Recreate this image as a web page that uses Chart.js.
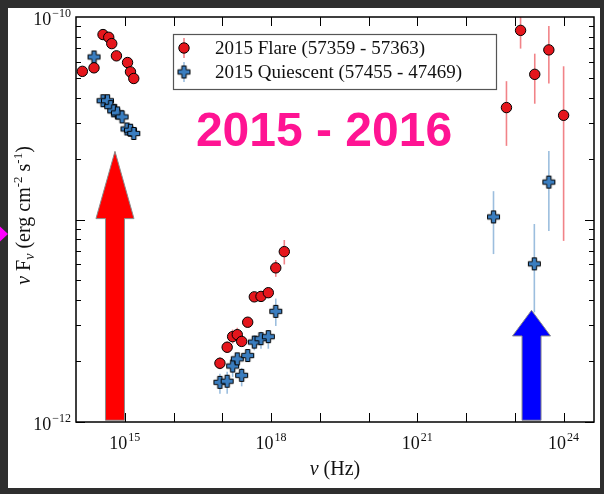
<!DOCTYPE html>
<html>
<head>
<meta charset="utf-8">
<script src="https://cdn.jsdelivr.net/npm/chart.js@4.4.1/dist/chart.umd.min.js"></script>
<style>
  html, body { margin: 0; padding: 0; background: #2e2e2e; }
  canvas { display: block; }
</style>
</head>
<body>
<canvas id="sed" width="604" height="494"></canvas>
<script>
// nu (Hz) and nu*F_nu (erg cm^-2 s^-1); null = no error bar
const flareNu = [1.35e14, 2.34e14, 3.58e14, 4.69e14, 5.41e14, 6.75e14, 1.14e15, 1.31e15, 1.53e15,
  8.95e16, 1.26e17, 1.63e17, 2.03e17, 2.50e17, 3.32e17, 4.54e17, 6.22e17, 8.79e17, 1.25e18, 1.87e18,
  6.73e22, 1.31e23, 2.56e23, 4.98e23, 1.0e24];
const flareFlux = [5.39e-11, 5.61e-11, 8.19e-11, 7.94e-11, 7.39e-11, 6.43e-11, 5.96e-11, 5.36e-11, 4.97e-11,
  1.95e-12, 2.34e-12, 2.64e-12, 2.70e-12, 2.50e-12, 3.11e-12, 4.15e-12, 4.17e-12, 4.35e-12, 5.77e-12, 6.94e-12,
  3.57e-11, 8.59e-11, 5.21e-11, 6.88e-11, 3.27e-11];
const flareLow = [null, null, null, null, null, null, null, null, null,
  1.82e-12, 2.19e-12, 2.44e-12, 2.49e-12, 2.36e-12, 2.94e-12, 3.92e-12, 3.94e-12, 4.11e-12, 5.21e-12, 6.00e-12,
  2.31e-11, 6.98e-11, 3.73e-11, 4.69e-11, 7.84e-12];
const flareHigh = [null, null, null, null, null, null, null, null, null,
  2.09e-12, 2.50e-12, 2.86e-12, 2.92e-12, 2.64e-12, 3.29e-12, 4.39e-12, 4.41e-12, 4.60e-12, 6.31e-12, 7.92e-12,
  4.82e-11, 1.10e-10, 6.59e-11, 9.02e-11, 5.71e-11];

const quietNu = [2.34e14, 3.58e14, 4.42e14, 5.15e14, 5.94e14, 7.08e14, 8.81e14, 1.11e15, 1.31e15, 1.53e15,
  8.95e16, 1.26e17, 1.63e17, 2.03e17, 2.50e17, 3.32e17, 4.54e17, 6.22e17, 8.79e17, 1.25e18,
  3.65e22, 2.51e23, 4.98e23];
const quietFlux = [6.35e-11, 3.86e-11, 3.86e-11, 3.61e-11, 3.44e-11, 3.36e-11, 3.21e-11, 2.80e-11, 2.76e-11, 2.66e-11,
  1.57e-12, 1.59e-12, 1.89e-12, 2.05e-12, 1.70e-12, 2.13e-12, 2.48e-12, 2.58e-12, 2.64e-12, 3.52e-12,
  1.03e-11, 6.04e-12, 1.53e-11];
const quietLow = [null, null, null, null, null, null, null, null, null, null,
  1.38e-12, 1.38e-12, 1.67e-12, 1.87e-12, 1.50e-12, 2.00e-12, 2.26e-12, 2.30e-12, 2.30e-12, 2.98e-12,
  6.75e-12, 3.48e-12, 8.77e-12];
const quietHigh = [null, null, null, null, null, null, null, null, null, null,
  1.73e-12, 1.77e-12, 2.04e-12, 2.18e-12, 1.85e-12, 2.26e-12, 2.68e-12, 2.79e-12, 2.84e-12, 4.07e-12,
  1.38e-11, 9.50e-12, 2.18e-11];

const seriesNames = ["2015 Flare (57359 - 57363)", "2015 Quiescent (57455 - 47469)"];

// tick labels (10^exp)
const xTickValues = [1e15, 1e18, 1e21, 1e24];
const xTickExp = ["15", "18", "21", "24"];
const yTickValues = [1e-12, 1e-10];
const yTickExp = ["\u221212", "\u221210"];

// the two big arrows (anchored in data space)
const arrows = [
  { nu: 6.3e14, tip: 2.17e-11, neck: 1.01e-11, base: 1.02e-12, color: "#ff0000" },
  { nu: 2.2e23, tip: 3.56e-12, neck: 2.66e-12, base: 1.02e-12, color: "#0000ff" },
];

const RED = "#e5161c", BLUE = "#3a7dbf";
const RED_BAR = "rgba(236, 90, 96, 0.75)", BLUE_BAR = "rgba(90, 146, 200, 0.6)";
const SERIF = "'Liberation Serif', 'Times New Roman', serif";

function plusMarker(fill) {
  const c = document.createElement("canvas");
  c.width = 15; c.height = 15;
  const g = c.getContext("2d");
  const m = 7.5, L = 6, t = 2.2;
  g.beginPath();
  g.moveTo(m - t, m - L); g.lineTo(m + t, m - L); g.lineTo(m + t, m - t);
  g.lineTo(m + L, m - t); g.lineTo(m + L, m + t); g.lineTo(m + t, m + t);
  g.lineTo(m + t, m + L); g.lineTo(m - t, m + L); g.lineTo(m - t, m + t);
  g.lineTo(m - L, m + t); g.lineTo(m - L, m - t); g.lineTo(m - t, m - t);
  g.closePath();
  g.fillStyle = fill; g.fill();
  g.strokeStyle = "#000"; g.lineWidth = 1; g.stroke();
  return c;
}
const plusImg = plusMarker(BLUE);

const toPoints = (xs, ys) => xs.map((x, i) => ({ x: x, y: ys[i] }));

function drawPow(ctx, exp, x, y, align, size) {
  ctx.font = size + "px " + SERIF;
  const wb = ctx.measureText("10").width;
  ctx.font = Math.round(size * 0.68) + "px " + SERIF;
  const we = ctx.measureText(exp).width;
  const total = wb + we + 1;
  let x0 = align === "right" ? x - total : x - total / 2;
  ctx.textAlign = "left";
  ctx.font = size + "px " + SERIF;
  ctx.fillText("10", x0, y);
  ctx.font = Math.round(size * 0.68) + "px " + SERIF;
  ctx.fillText(exp, x0 + wb + 1, y - size * 0.42);
}

function drawRich(ctx, parts, x, y) {
  let w = 0;
  parts.forEach(p => { ctx.font = p.f; w += ctx.measureText(p.t).width; });
  let cx = x - w / 2;
  ctx.textAlign = "left";
  parts.forEach(p => {
    ctx.font = p.f;
    ctx.fillText(p.t, cx, y + (p.dy || 0));
    cx += ctx.measureText(p.t).width;
  });
}

const decorations = {
  id: "decorations",
  beforeDraw(chart) {
    const ctx = chart.ctx;
    ctx.save();
    ctx.fillStyle = "#2e2e2e";
    ctx.fillRect(0, 0, chart.width, chart.height);
    ctx.fillStyle = "#ffffff";
    ctx.fillRect(8, 8, 592, 480);
    // magenta pointer on the slide edge
    ctx.fillStyle = "#ff00ff";
    ctx.beginPath();
    ctx.moveTo(-6, 221); ctx.lineTo(8, 234); ctx.lineTo(-6, 247); ctx.closePath();
    ctx.fill();
    ctx.restore();
  },
  beforeDatasetsDraw(chart) {
    const ctx = chart.ctx, xs = chart.scales.x, ys = chart.scales.y, a = chart.chartArea;
    ctx.save();
    ctx.beginPath(); ctx.rect(a.left, a.top, a.right - a.left, a.bottom - a.top); ctx.clip();
    ctx.lineWidth = 1.6;
    const bars = [[flareNu, flareLow, flareHigh, RED_BAR], [quietNu, quietLow, quietHigh, BLUE_BAR]];
    bars.forEach(([nu, lo, hi, col]) => {
      ctx.strokeStyle = col;
      nu.forEach((v, i) => {
        if (lo[i] == null) return;
        const px = xs.getPixelForValue(v);
        ctx.beginPath();
        ctx.moveTo(px, ys.getPixelForValue(lo[i]));
        ctx.lineTo(px, ys.getPixelForValue(hi[i]));
        ctx.stroke();
      });
    });
    ctx.restore();
  },
  afterDatasetsDraw(chart) {
    const ctx = chart.ctx, xs = chart.scales.x, ys = chart.scales.y;
    ctx.save();
    arrows.forEach(ar => {
      const cx = xs.getPixelForValue(ar.nu);
      const tip = ys.getPixelForValue(ar.tip);
      const neck = ys.getPixelForValue(ar.neck);
      const base = ys.getPixelForValue(ar.base);
      const sw = 9.5, hw = 19;
      ctx.beginPath();
      ctx.moveTo(cx, tip);
      ctx.lineTo(cx + hw, neck); ctx.lineTo(cx + sw, neck); ctx.lineTo(cx + sw, base);
      ctx.lineTo(cx - sw, base); ctx.lineTo(cx - sw, neck); ctx.lineTo(cx - hw, neck);
      ctx.closePath();
      ctx.fillStyle = ar.color; ctx.fill();
      ctx.strokeStyle = "#8a8a8a"; ctx.lineWidth = 1; ctx.stroke();
    });
    ctx.restore();
  },
  afterDraw(chart) {
    const ctx = chart.ctx, xs = chart.scales.x, ys = chart.scales.y, a = chart.chartArea;
    ctx.save();
    // frame
    ctx.strokeStyle = "#000"; ctx.lineWidth = 1.5;
    ctx.strokeRect(a.left, a.top, a.right - a.left, a.bottom - a.top);
    // inward ticks
    ctx.lineWidth = 1;
    ctx.beginPath();
    for (let e = 14; e <= 25; e++) {
      const px = Math.round(xs.getPixelForValue(Math.pow(10, e))) + 0.5;
      if (px <= a.left + 1 || px >= a.right - 1) continue;
      ctx.moveTo(px, a.bottom); ctx.lineTo(px, a.bottom - 9);
      ctx.moveTo(px, a.top); ctx.lineTo(px, a.top + 9);
    }
    for (let e = -12; e < -10; e++) {
      for (let m = 1; m < 10; m++) {
        const py = Math.round(ys.getPixelForValue(m * Math.pow(10, e))) + 0.5;
        const len = m === 1 ? 9 : 5;
        ctx.moveTo(a.left, py); ctx.lineTo(a.left + len, py);
        ctx.moveTo(a.right, py); ctx.lineTo(a.right - len, py);
      }
    }
    ctx.stroke();
    // tick labels
    ctx.fillStyle = "#111";
    ctx.textBaseline = "alphabetic";
    xTickValues.forEach((v, i) => drawPow(ctx, xTickExp[i], xs.getPixelForValue(v), 449, "center", 18));
    yTickValues.forEach((v, i) => drawPow(ctx, yTickExp[i], 71, ys.getPixelForValue(v) + 8, "right", 18));
    // axis titles
    drawRich(ctx, [
      { t: "\u03bd", f: "italic 20px " + SERIF },
      { t: " (Hz)", f: "20px " + SERIF },
    ], (a.left + a.right) / 2, 475);
    ctx.save();
    ctx.translate(30, (a.top + a.bottom) / 2 - 4);
    ctx.rotate(-Math.PI / 2);
    drawRich(ctx, [
      { t: "\u03bd", f: "italic 20px " + SERIF },
      { t: " F", f: "20px " + SERIF },
      { t: "\u03bd", f: "italic 14px " + SERIF, dy: 4 },
      { t: " (erg cm", f: "20px " + SERIF },
      { t: "-2", f: "13px " + SERIF, dy: -8 },
      { t: " s", f: "20px " + SERIF },
      { t: "-1", f: "13px " + SERIF, dy: -8 },
      { t: ")", f: "20px " + SERIF },
    ], 0, 0);
    ctx.restore();
    // big title
    ctx.fillStyle = "#ff1493";
    ctx.font = "bold 48px 'Liberation Sans', Arial, sans-serif";
    ctx.textAlign = "center";
    ctx.fillText("2015 - 2016", 324, 146);
    // legend
    ctx.fillStyle = "#fff";
    ctx.fillRect(173.5, 34.5, 323, 55);
    ctx.strokeStyle = "#555"; ctx.lineWidth = 1.2;
    ctx.strokeRect(173.5, 34.5, 323, 55);
    const rows = [{ y: 48, bar: RED_BAR }, { y: 72, bar: BLUE_BAR }];
    rows.forEach((r, i) => {
      ctx.strokeStyle = r.bar; ctx.lineWidth = 1.6;
      ctx.beginPath(); ctx.moveTo(184, r.y - 10); ctx.lineTo(184, r.y + 10); ctx.stroke();
      if (i === 0) {
        ctx.beginPath(); ctx.arc(184, r.y, 5.2, 0, Math.PI * 2);
        ctx.fillStyle = RED; ctx.fill();
        ctx.strokeStyle = "#000"; ctx.lineWidth = 1; ctx.stroke();
      } else {
        ctx.drawImage(plusImg, 184 - 7.5, r.y - 7.5);
      }
      ctx.fillStyle = "#111";
      ctx.font = "19px " + SERIF;
      ctx.textAlign = "left";
      ctx.fillText(seriesNames[i], 215, r.y + 6);
    });
    ctx.restore();
  },
};

new Chart(document.getElementById("sed"), {
  type: "scatter",
  data: {
    datasets: [
      {
        label: seriesNames[0],
        data: toPoints(flareNu, flareFlux),
        pointStyle: "circle",
        pointRadius: 5.2,
        backgroundColor: RED,
        borderColor: "#000",
        borderWidth: 1,
      },
      {
        label: seriesNames[1],
        data: toPoints(quietNu, quietFlux),
        pointStyle: plusImg,
        pointRadius: 7,
        backgroundColor: BLUE,
        borderColor: "#000",
      },
    ],
  },
  options: {
    responsive: false,
    animation: false,
    layout: { padding: { left: 76, top: 17, right: 10, bottom: 72 } },
    plugins: {
      legend: { display: false },
      tooltip: { enabled: false },
    },
    scales: {
      x: { type: "logarithmic", min: 1e14, max: 4.2e24, display: false },
      y: { type: "logarithmic", min: 1e-12, max: 1e-10, display: false },
    },
  },
  plugins: [decorations],
});
</script>
</body>
</html>
